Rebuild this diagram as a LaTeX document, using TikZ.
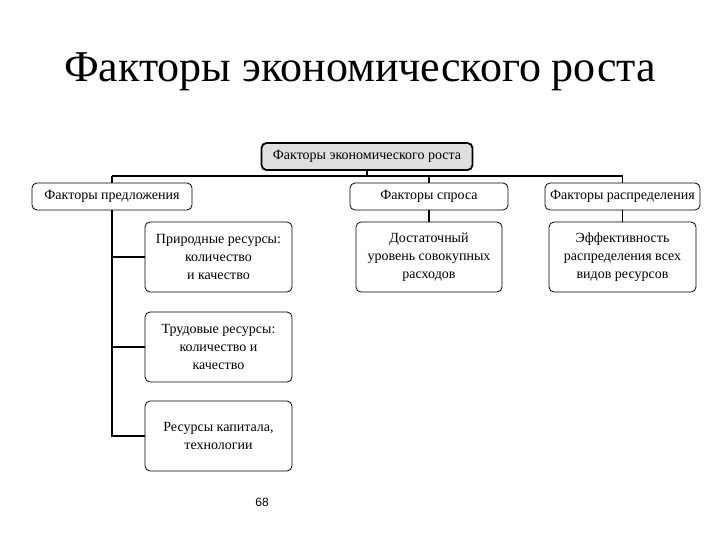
\documentclass[tikz,border=0pt]{standalone}
\usepackage{fontspec}
\setmainfont{Liberation Serif}
\newfontfamily\sansf{Liberation Sans}
\begin{document}
\begin{tikzpicture}[x=1pt,y=-1pt,
 bx/.style={draw,rounded corners=5pt,line width=0.8pt,font=\fontsize{14}{18}\selectfont,align=center,inner sep=0pt},
 ln/.style={line width=1.6pt}]
\useasboundingbox (0,0) rectangle (720,540);
\node[font=\fontsize{44}{48}\selectfont] (title) at (360,72) {Факторы экономического роста};
\node[bx,fill=gray!25,line width=1.8pt,minimum width=211pt,minimum height=27pt] (top) at (367,156.5) {Факторы экономического роста};
\node[bx,minimum width=160pt,minimum height=27pt] (f1) at (112,196.5) {Факторы предложения};
\node[bx,minimum width=158pt,minimum height=27pt] (f2) at (429,196.5) {Факторы спроса};
\node[bx,minimum width=155pt,minimum height=27pt] (f3) at (622.5,196.5) {Факторы распределения};
\node[bx,minimum width=147pt,minimum height=70pt] (s1) at (218.5,257) {Природные ресурсы:\\количество\\и качество};
\node[bx,minimum width=147pt,minimum height=70pt] (s2) at (218.5,347) {Трудовые ресурсы:\\количество и\\качество};
\node[bx,minimum width=147pt,minimum height=70pt] (s3) at (218.5,436) {Ресурсы капитала,\\технологии};
\node[bx,minimum width=146pt,minimum height=70pt] (m1) at (429,257) {Достаточный\\уровень совокупных\\расходов};
\node[bx,minimum width=147pt,minimum height=70pt] (r1) at (622.5,257) {Эффективность\\распределения всех\\видов ресурсов};
\node[font=\sansf\fontsize{12}{14}\selectfont] (pg) at (262,502) {68};
\coordinate (bl) at (112,176);
\coordinate (br) at (622.5,176);
\draw[ln] (top.south) -- (367,176);
\draw[ln] (bl) -- (br);
\draw[ln] (bl) -- (f1.north);
\draw[ln] (429,176) -- (f2.north);
\draw[ln] (br) -- (f3.north);
\draw[ln] (f1.south) -- (112,436) -- (s3.west);
\draw[ln] (112,257) -- (s1.west);
\draw[ln] (112,347) -- (s2.west);
\draw[ln] (f2.south) -- (m1.north);
\draw[ln] (f3.south) -- (r1.north);
\end{tikzpicture}
\end{document}
